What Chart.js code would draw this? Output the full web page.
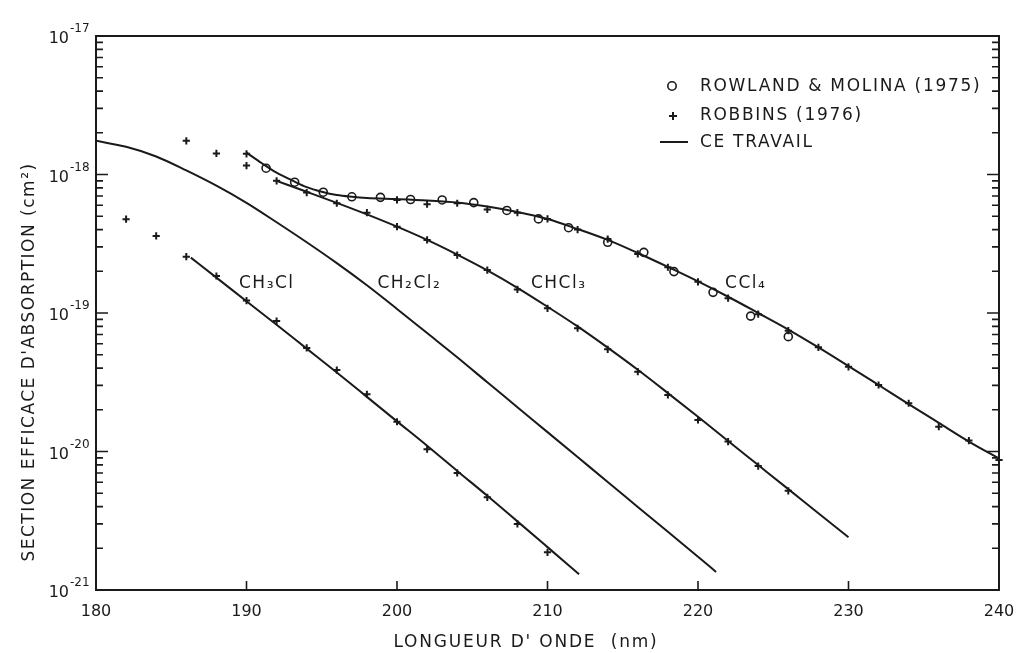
<!DOCTYPE html>
<html>
<head>
<meta charset="utf-8">
<script src="https://cdn.jsdelivr.net/npm/chart.js@4.4.1/dist/chart.umd.min.js"></script>
<style>
  html, body { margin: 0; padding: 0; background: #fff; }
</style>
</head>
<body>
<canvas id="chart" width="1019" height="653"></canvas>
<script>
// wavelengths in nm, cross sections in cm^2

// solid curves ("CE TRAVAIL")
const ch3clNm  = [186.3, 188, 190, 192, 194, 196, 198, 200, 202, 204, 206, 208, 210, 212.1];
const ch3clSig = [2.51e-19, 1.80e-19, 1.216e-19, 8.22e-20, 5.53e-20, 3.72e-20, 2.48e-20, 1.65e-20, 1.10e-20, 7.24e-21, 4.79e-21, 3.13e-21, 2.04e-21, 1.30e-21];

const ch2cl2Nm  = [180, 182, 184, 186, 188, 190, 192, 194, 196, 198, 200, 202, 204, 206, 208, 210, 212, 214, 216, 218, 220, 221.2];
const ch2cl2Sig = [1.75e-18, 1.585e-18, 1.35e-18, 1.07e-18, 8.3e-19, 6.24e-19, 4.52e-19, 3.24e-19, 2.29e-19, 1.585e-19, 1.07e-19, 7.16e-20, 4.79e-20, 3.16e-20, 2.09e-20, 1.38e-20, 9.12e-21, 6.03e-21, 3.98e-21, 2.63e-21, 1.74e-21, 1.35e-21];

const chcl3Nm  = [192, 194, 196, 198, 200, 202, 204, 206, 208, 210, 212, 214, 216, 218, 220, 222, 224, 226, 228, 230];
const chcl3Sig = [8.99e-19, 7.5e-19, 6.24e-19, 5.15e-19, 4.2e-19, 3.37e-19, 2.64e-19, 2.03e-19, 1.52e-19, 1.11e-19, 8.0e-20, 5.62e-20, 3.89e-20, 2.64e-20, 1.78e-20, 1.19e-20, 7.98e-21, 5.35e-21, 3.58e-21, 2.4e-21];

const ccl4Nm  = [190, 191, 192, 193, 194, 195, 196, 197, 198, 200, 202, 204, 206, 208, 210, 212, 214, 216, 218, 220, 222, 224, 226, 228, 230, 232, 234, 236, 238, 240];
const ccl4Sig = [1.44e-18, 1.21e-18, 1.03e-18, 9.1e-19, 8.1e-19, 7.5e-19, 7.1e-19, 6.9e-19, 6.77e-19, 6.65e-19, 6.5e-19, 6.28e-19, 5.87e-19, 5.36e-19, 4.77e-19, 4.04e-19, 3.37e-19, 2.71e-19, 2.15e-19, 1.69e-19, 1.31e-19, 1.0e-19, 7.6e-20, 5.65e-20, 4.14e-20, 3.02e-20, 2.2e-20, 1.61e-20, 1.18e-20, 8.9e-21];

// ROWLAND & MOLINA (1975), CCl4
const rowlandNm  = [191.3, 193.2, 195.1, 197.0, 198.9, 200.9, 203.0, 205.1, 207.3, 209.4, 211.4, 214.0, 216.4, 218.4, 221.0, 223.5, 226.0];
const rowlandSig = [1.11e-18, 8.8e-19, 7.45e-19, 6.9e-19, 6.84e-19, 6.6e-19, 6.55e-19, 6.27e-19, 5.5e-19, 4.78e-19, 4.13e-19, 3.24e-19, 2.74e-19, 1.99e-19, 1.41e-19, 9.5e-20, 6.75e-20];

// ROBBINS (1976)
const robbinsCh3clNm  = [182, 184, 186, 188, 190, 192, 194, 196, 198, 200, 202, 204, 206, 208, 210];
const robbinsCh3clSig = [4.76e-19, 3.6e-19, 2.55e-19, 1.85e-19, 1.23e-19, 8.75e-20, 5.6e-20, 3.87e-20, 2.59e-20, 1.64e-20, 1.04e-20, 7.0e-21, 4.67e-21, 3.0e-21, 1.87e-21];
const robbinsCh2cl2Nm  = [186, 188, 190];
const robbinsCh2cl2Sig = [1.75e-18, 1.42e-18, 1.16e-18];
const robbinsChcl3Nm  = [192, 194, 196, 198, 200, 202, 204, 206, 208, 210, 212, 214, 216, 218, 220, 222, 224, 226];
const robbinsChcl3Sig = [9.0e-19, 7.4e-19, 6.2e-19, 5.3e-19, 4.2e-19, 3.37e-19, 2.62e-19, 2.04e-19, 1.48e-19, 1.08e-19, 7.76e-20, 5.47e-20, 3.77e-20, 2.56e-20, 1.69e-20, 1.18e-20, 7.85e-21, 5.2e-21];
const robbinsCcl4Nm  = [190, 200, 202, 204, 206, 208, 210, 212, 214, 216, 218, 220, 222, 224, 226, 228, 230, 232, 234, 236, 238, 240];
const robbinsCcl4Sig = [1.41e-18, 6.55e-19, 6.1e-19, 6.2e-19, 5.6e-19, 5.3e-19, 4.78e-19, 4.0e-19, 3.42e-19, 2.67e-19, 2.14e-19, 1.68e-19, 1.28e-19, 9.8e-20, 7.45e-20, 5.65e-20, 4.09e-20, 3.02e-20, 2.23e-20, 1.51e-20, 1.2e-20, 8.7e-21];

// axis ticks
const xTicks = [180, 190, 200, 210, 220, 230, 240];
const yExponents = [-17, -18, -19, -20, -21];

// curve names, placed at (nm, sigma) of their left edge
const curveNames = ['CH₃Cl', 'CH₂Cl₂', 'CHCl₃', 'CCl₄'];
const curveLabelNm = [189.5, 198.7, 208.9, 221.8];
const curveLabelSig = 1.62e-19;

const ink = '#1a1a1a';
const font = '"DejaVu Sans", sans-serif';

function pts(xs, ys) {
  return xs.map((v, i) => ({ x: v, y: ys[i] }));
}

function curve(xs, ys) {
  return {
    type: 'line',
    data: pts(xs, ys),
    borderColor: ink,
    borderWidth: 2,
    pointRadius: 0,
    fill: false,
    cubicInterpolationMode: 'monotone',
    showLine: true,
  };
}

const robbinsPts = [].concat(
  pts(robbinsCh3clNm, robbinsCh3clSig),
  pts(robbinsCh2cl2Nm, robbinsCh2cl2Sig),
  pts(robbinsChcl3Nm, robbinsChcl3Sig),
  pts(robbinsCcl4Nm, robbinsCcl4Sig)
);

function text(ctx, str, x, y, size, align, spacing) {
  ctx.font = size + 'px ' + font;
  ctx.letterSpacing = (spacing || 0) + 'px';
  ctx.textAlign = align || 'left';
  ctx.textBaseline = 'middle';
  ctx.fillText(str, x, y);
}

// frame, inward ticks, labels, legend
const decorations = {
  id: 'decorations',
  afterDraw(chart) {
    const { ctx, chartArea: a, scales: { x, y } } = chart;
    ctx.save();
    ctx.strokeStyle = ink;
    ctx.fillStyle = ink;
    ctx.lineWidth = 2;
    ctx.strokeRect(a.left, a.top, a.right - a.left, a.bottom - a.top);

    ctx.lineWidth = 1.6;
    xTicks.forEach(v => {
      const px = x.getPixelForValue(v);
      if (v > xTicks[0] && v < xTicks[xTicks.length - 1]) {
        ctx.beginPath();
        ctx.moveTo(px, a.bottom);
        ctx.lineTo(px, a.bottom - 9);
        ctx.stroke();
      }
      text(ctx, String(v), px, 612, 16, 'center');
    });

    yExponents.forEach(e => {
      for (let m = 1; m < 10; m++) {
        if (e === -17 && m > 1) break;
        const py = y.getPixelForValue(m * Math.pow(10, e));
        const len = m === 1 ? 12 : 7;
        ctx.beginPath();
        ctx.moveTo(a.left, py);
        ctx.lineTo(a.left + len, py);
        ctx.moveTo(a.right, py);
        ctx.lineTo(a.right - len, py);
        ctx.stroke();
      }
      const py = y.getPixelForValue(Math.pow(10, e));
      text(ctx, '10', 69, py + 3, 16, 'right');
      text(ctx, '-' + Math.abs(e), 70, py - 7, 12, 'left');
    });

    // axis titles
    text(ctx, "LONGUEUR D' ONDE  (nm)", 526, 643, 17, 'center', 1.8);
    ctx.save();
    ctx.translate(30, 362);
    ctx.rotate(-Math.PI / 2);
    text(ctx, "SECTION EFFICACE D'ABSORPTION (cm²)", 0, 0, 17, 'center', 1.5);
    ctx.restore();

    // curve names
    curveNames.forEach((n, i) => {
      text(ctx, n, x.getPixelForValue(curveLabelNm[i]), y.getPixelForValue(curveLabelSig), 17, 'left', 1.5);
    });

    // legend
    ctx.lineWidth = 1.6;
    ctx.beginPath();
    ctx.arc(672, 86, 4.2, 0, Math.PI * 2);
    ctx.stroke();
    ctx.lineWidth = 2;
    ctx.beginPath();
    ctx.moveTo(669, 116); ctx.lineTo(677, 116);
    ctx.moveTo(673, 112); ctx.lineTo(673, 120);
    ctx.moveTo(660, 142); ctx.lineTo(688, 142);
    ctx.stroke();
    text(ctx, 'ROWLAND & MOLINA (1975)', 700, 87, 17, 'left', 1.7);
    text(ctx, 'ROBBINS (1976)', 700, 116, 17, 'left', 1.7);
    text(ctx, 'CE TRAVAIL', 700, 143, 17, 'left', 1.7);
    ctx.restore();
  }
};

new Chart(document.getElementById('chart'), {
  type: 'scatter',
  data: {
    datasets: [
      curve(ch3clNm, ch3clSig),
      curve(ch2cl2Nm, ch2cl2Sig),
      curve(chcl3Nm, chcl3Sig),
      curve(ccl4Nm, ccl4Sig),
      {
        label: 'ROWLAND & MOLINA (1975)',
        data: pts(rowlandNm, rowlandSig),
        pointStyle: 'circle',
        pointRadius: 4,
        borderColor: ink,
        backgroundColor: 'rgba(0,0,0,0)',
        pointBorderWidth: 1.6,
        clip: false,
      },
      {
        label: 'ROBBINS (1976)',
        data: robbinsPts,
        pointStyle: 'cross',
        pointRadius: 3.6,
        borderColor: ink,
        pointBorderWidth: 2,
        clip: false,
      },
    ],
  },
  options: {
    responsive: false,
    animation: false,
    layout: { padding: { left: 96, top: 36, right: 20, bottom: 63 } },
    plugins: { legend: { display: false }, tooltip: { enabled: false } },
    scales: {
      x: { type: 'linear', min: 180, max: 240, display: false },
      y: { type: 'logarithmic', min: 1e-21, max: 1e-17, display: false },
    },
  },
  plugins: [decorations],
});
</script>
</body>
</html>
